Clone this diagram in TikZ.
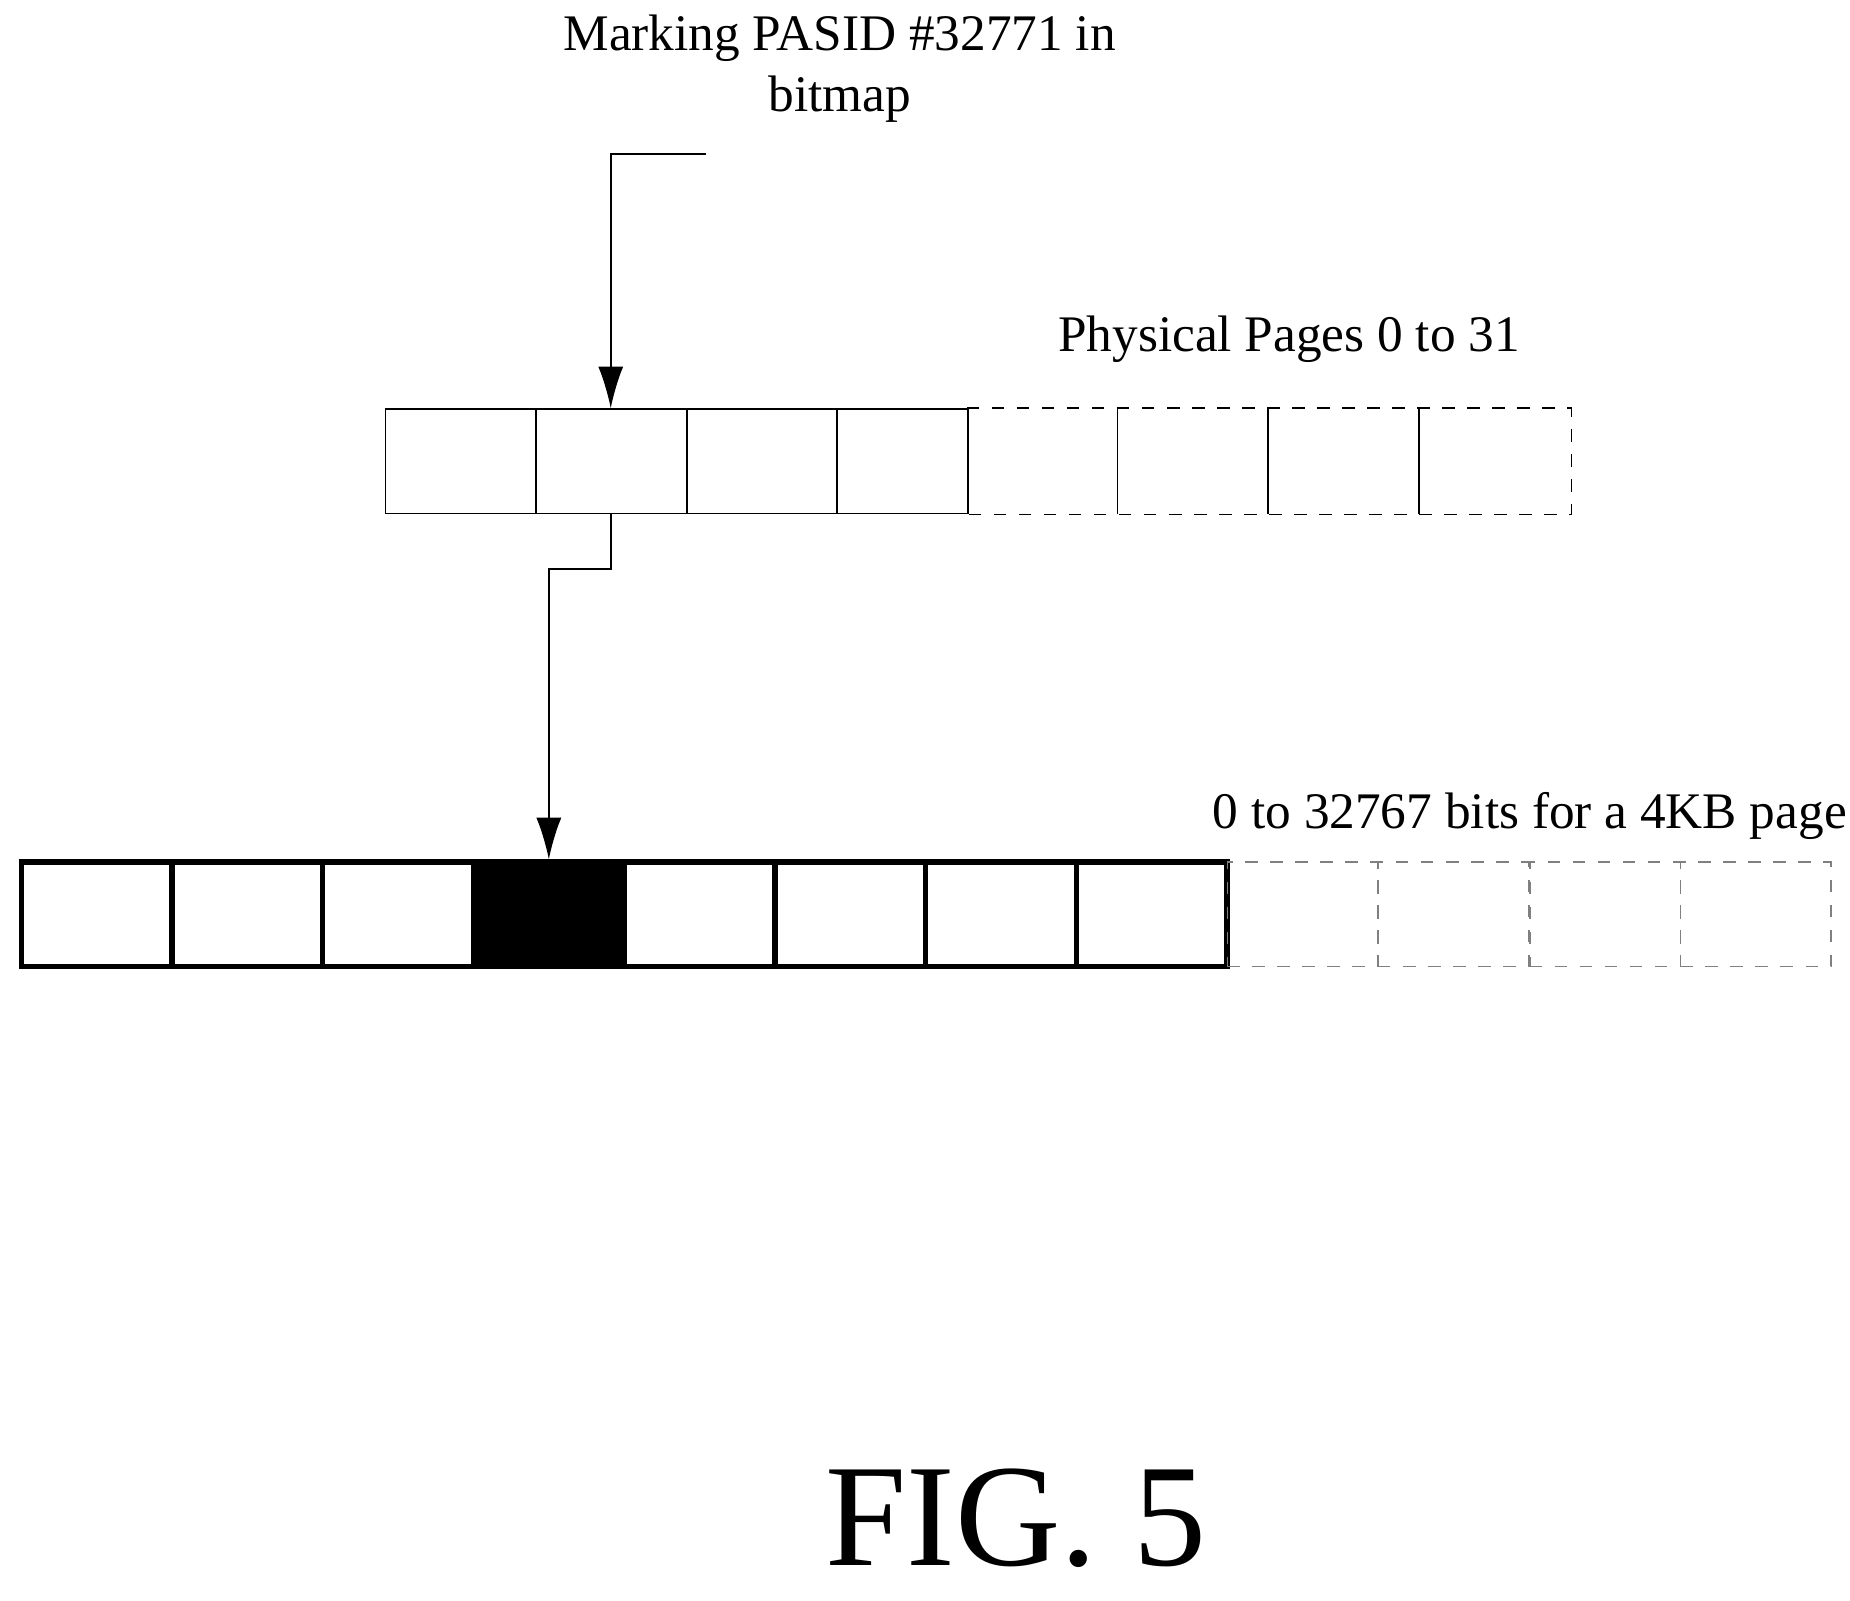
\documentclass[tikz,border=0pt]{standalone}
\usepackage{fontspec}
\setmainfont{Liberation Serif}
\usetikzlibrary{arrows.meta,positioning}

\begin{document}
\begin{tikzpicture}[
    x=0.01cm, y=-0.01cm,
    page/.style={rectangle, thin, minimum width=1.27cm, minimum height=0.88cm, inner sep=0pt},
    bit/.style={rectangle, draw, line width=1.3pt, minimum width=1.27cm, minimum height=0.88cm, inner sep=0pt},
    bitdash/.style={rectangle, draw, thin, dashed, gray, minimum width=1.27cm, minimum height=0.88cm, inner sep=0pt},
    lbl/.style={font=\fontsize{12.3pt}{14.5pt}\selectfont, align=center},
    arr/.style={-{Latex[length=10pt,width=6pt]}, thin}
]
\useasboundingbox (0,0) rectangle (1560,1350);
% title
\node[lbl] (title) at (708,58) {Marking PASID \#32771 in\\bitmap};
\coordinate (start) at (595,130);
% top row: physical pages
\foreach \i in {1,...,3}
  \node[page, draw] (p\i) at ({325+63.5+127*(\i-1)},389) {};
\node[page, draw, minimum width=1.1cm] (p4) at (761,389) {};
\foreach \i/\x in {5/879.5,6/1006.5,7/1133.5,8/1261}
  \node[page] (p\i) at (\x,389) {};
\draw[thin, dashed] (p5.north west) -- (p8.north east) -- (p8.south east) -- (p5.south west);
\draw[thin] (p6.north west) -- (p6.south west) (p7.north west) -- (p7.south west) (p8.north west) -- (p8.south west);
\node[lbl, anchor=south] (plbl) at (1087,318) {Physical Pages 0 to 31};
% bottom row: bitmap
\foreach \i in {1,...,8}
  \node[bit] (b\i) at ({18+63.5+127.1*(\i-1)},771) {};
\fill (b4.north west) rectangle (b4.south east);
\foreach \i/\x in {9/1098.5,10/1225.5,11/1353.5,12/1480.5}
  \node[bitdash] (b\i) at (\x,771) {};
\node[lbl, anchor=south] (blbl) at (1290,720) {0 to 32767 bits for a 4KB page};
% connectors
\draw[arr] (start) -| (p2.north -| 515,0);
\coordinate (bend) at (515,480);
\draw[arr] (p2.south -| bend) -- (bend) -| (b4.north);
% caption
\node[font=\fontsize{35pt}{40pt}\selectfont] (fig) at (857,1280) {FIG. 5};
\end{tikzpicture}
\end{document}
